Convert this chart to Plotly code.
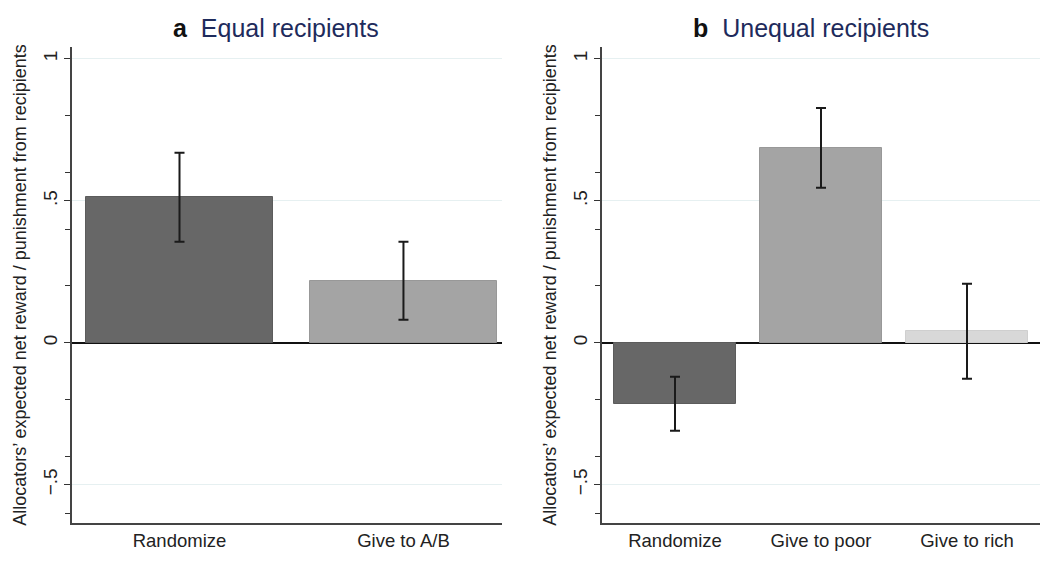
import plotly.graph_objects as go

# panel a: equal recipients
equal_labels = ["Randomize", "Give to A/B"]
equal_means = [0.514, 0.218]
equal_upper = [0.669, 0.356]
equal_lower = [0.356, 0.081]

# panel b: unequal recipients
unequal_labels = ["Randomize", "Give to poor", "Give to rich"]
unequal_means = [-0.215, 0.687, 0.042]
unequal_upper = [-0.12, 0.827, 0.208]
unequal_lower = [-0.31, 0.546, -0.127]

y_tickvals = [-0.5, 0, 0.5, 1]
y_ticktext = ["\u2212.5", "0", ".5", "1"]

bar_colors = ["#676767", "#a4a4a4", "#d8d8d8"]
line_colors = ["#5c5c5c", "#989898", "#cfcfcf"]
font_family = "Liberation Sans, Arial, sans-serif"
ytitle = "Allocators\u2019 expected net reward / punishment from recipients"

# the page body has an 8px margin, so the figure is laid out in page pixels minus that
W, H, PAD = 1042, 561, 8


def px_x(p):
    return (p - PAD) / W


def px_y(p):
    return 1 - (p - PAD) / H


def add_panel(fig, labels, means, upper, lower, xref):
    n = len(labels)
    xs = list(range(n))
    fig.add_trace(
        go.Bar(
            x=xs,
            y=means,
            width=0.835,
            marker={
                "color": bar_colors[:n],
                "line": {"color": line_colors[:n], "width": 1},
            },
            error_y={
                "type": "data",
                "symmetric": False,
                "array": [u - m for u, m in zip(upper, means)],
                "arrayminus": [m - l for m, l in zip(means, lower)],
                "color": "#1a1a1a",
                "thickness": 2,
                "width": 5,
            },
            xaxis=xref,
            yaxis=xref.replace("x", "y"),
            showlegend=False,
            hoverinfo="skip",
        )
    )
    return xs


fig = go.Figure()
xs_a = add_panel(fig, equal_labels, equal_means, equal_upper, equal_lower, "x")
xs_b = add_panel(fig, unequal_labels, unequal_means, unequal_upper, unequal_lower, "x2")

yaxis_common = dict(
    range=[-0.635, 1.042],
    tickvals=y_tickvals,
    ticktext=y_ticktext,
    tickangle=-90,
    ticks="outside",
    ticklen=6,
    tickwidth=1,
    tickcolor="#333333",
    minor=dict(dtick=0.2, tick0=0, ticks="outside", ticklen=5, tickcolor="#333333", showgrid=False),
    showline=True,
    linecolor="#444444",
    linewidth=1.5,
    showgrid=True,
    gridcolor="#e6f0f1",
    gridwidth=1,
    zeroline=True,
    zerolinecolor="#111111",
    zerolinewidth=1.5,
    tickfont=dict(size=19, color="#222222", family=font_family),
    title=dict(text=ytitle, font=dict(size=18, color="#222222", family=font_family), standoff=8),
    fixedrange=True,
    domain=[px_y(523), px_y(47)],
)

xaxis_common = dict(
    showline=True,
    linecolor="#444444",
    linewidth=1.5,
    showgrid=False,
    zeroline=False,
    ticks="",
    tickfont=dict(size=18.5, color="#222222", family=font_family),
    fixedrange=True,
)

fig.update_layout(
    width=W,
    height=H,
    margin=dict(l=0, r=0, t=0, b=0),
    paper_bgcolor="white",
    plot_bgcolor="white",
    bargap=0,
    xaxis=dict(
        **xaxis_common,
        domain=[px_x(72), px_x(502)],
        range=[-0.48, 1.44],
        tickvals=xs_a,
        ticktext=equal_labels,
        anchor="y",
    ),
    yaxis=dict(**yaxis_common, anchor="x"),
    xaxis2=dict(
        **xaxis_common,
        domain=[px_x(602), px_x(1040)],
        range=[-0.5, 2.5],
        tickvals=xs_b,
        ticktext=unequal_labels,
        anchor="y2",
    ),
    yaxis2=dict(**yaxis_common, anchor="x2"),
)

titles = [
    (276, "a", "Equal recipients"),
    (811, "b", "Unequal recipients"),
]
for x, letter, name in titles:
    fig.add_annotation(
        x=px_x(x),
        y=px_y(28),
        xref="paper",
        yref="paper",
        xanchor="center",
        yanchor="middle",
        showarrow=False,
        text=f"<b>{letter}</b>  <span style='color:#1e2b5c'>{name}</span>",
        font=dict(size=25, color="#111111", family=font_family),
    )

fig.write_html("out.html")
